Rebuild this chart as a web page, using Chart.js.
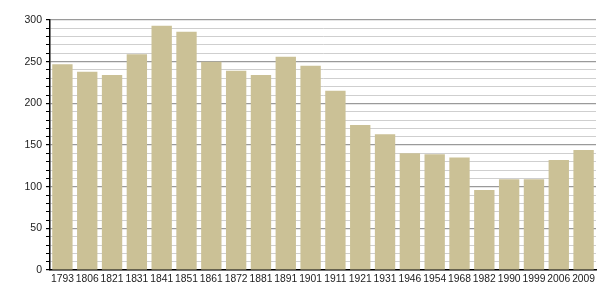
<!DOCTYPE html>
<html>
<head>
<meta charset="utf-8">
<script src="https://cdn.jsdelivr.net/npm/chart.js@4/dist/chart.umd.min.js"></script>
<style>
  html, body { margin: 0; padding: 0; background: #fff; }
  #wrap { width: 605px; height: 300px; }
</style>
</head>
<body>
<div id="wrap"><canvas id="popChart"></canvas></div>
<script>
// census years and population
let years = ['1793','1806','1821','1831','1841','1851','1861','1872','1881','1891','1901',
             '1911','1921','1931','1946','1954','1968','1982','1990','1999','2006','2009'];
let population = [247, 238, 234, 259, 293, 286, 250, 239, 234, 256, 245,
                  215, 174, 163, 140, 139, 135, 96, 109, 109, 132, 144];
let yMin = 0;
let yMax = 300;

let ctx = document.querySelector('#popChart').getContext('2d');

let pop_chart = new Chart(ctx, {
    type: 'bar',
    data: {
        labels: years,
        datasets: [{
            label: 'Population',
            data: population,
            backgroundColor: '#cbc196',
            borderWidth: 0,
            categoryPercentage: 1,
            barPercentage: 0.82
        }]
    },
    options: {
        responsive: true,
        maintainAspectRatio: false,
        animation: false,
        layout: { padding: { top: 20, right: 9, left: 0, bottom: 0 } },
        plugins: {
            legend: { display: false },
            tooltip: { enabled: false }
        },
        scales: {
            x: {
                grid: { display: false, drawTicks: false },
                border: { display: true, color: '#000', width: 1.5 },
                ticks: {
                    color: '#222',
                    font: { family: 'Liberation Sans', size: 10.3 },
                    padding: 3,
                    maxRotation: 0,
                    autoSkip: false
                },
                afterFit: function(scale) { scale.height = 30; }
            },
            y: {
                min: yMin,
                max: yMax,
                border: { display: true, color: '#000', width: 1.5 },
                grid: {
                    color: function(c) {
                        return c.tick && c.tick.value % 50 === 0 ? '#9a9a9a' : '#cfcfcf';
                    },
                    lineWidth: function(c) {
                        return c.tick && c.tick.value % 50 === 0 ? 1.2 : 1;
                    },
                    tickColor: '#000',
                    tickLength: 4
                },
                ticks: {
                    stepSize: 10,
                    color: '#222',
                    font: { family: 'Liberation Sans', size: 10.5 },
                    padding: 4,
                    autoSkip: false,
                    callback: function(v) { return v % 50 === 0 ? v : ''; }
                },
                afterFit: function(scale) { scale.width = 50; }
            }
        }
    }
});
</script>
</body>
</html>
